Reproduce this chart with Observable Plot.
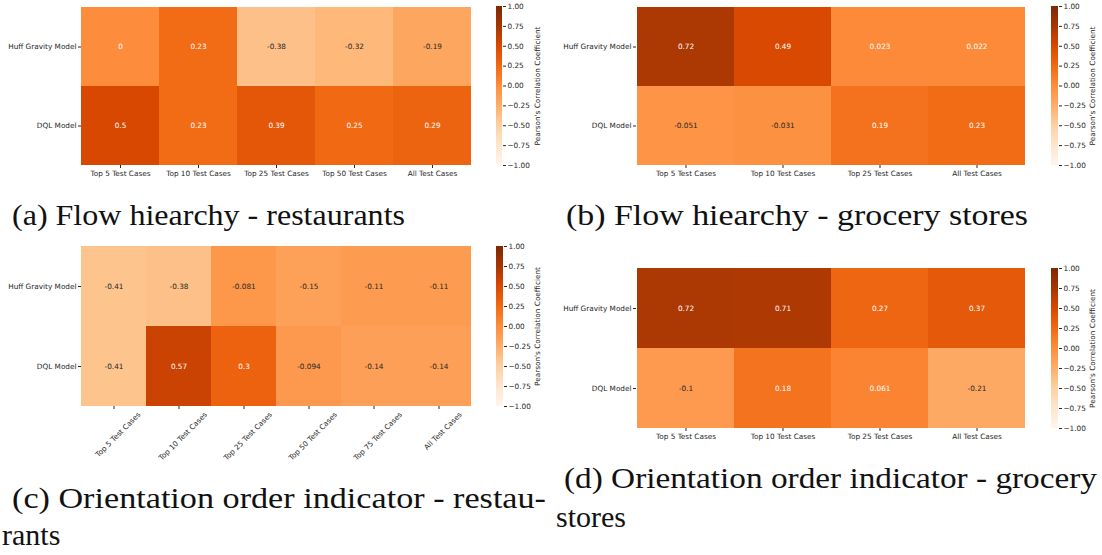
<!DOCTYPE html>
<html>
<head>
<meta charset="utf-8">
<script src="https://cdn.jsdelivr.net/npm/d3@7"></script>
<script src="https://cdn.jsdelivr.net/npm/@observablehq/plot@0.6"></script>
<style>
  html, body { margin: 0; padding: 0; background: #fff; }
  #root { position: relative; width: 1102px; height: 555px; overflow: hidden; background: #fff; }
  #root > div.panel { position: absolute; }
  #root svg { max-width: none !important; }
  #captions { position: absolute; left: 0; top: 0; }
</style>
</head>
<body>
<div id="root"></div>
<script>
// ---------- data ----------
const rowLabels = ["Huff Gravity Model", "DQL Model"];

const colsA = ["Top 5 Test Cases", "Top 10 Test Cases", "Top 25 Test Cases", "Top 50 Test Cases", "All Test Cases"];
const huffA = [0, 0.23, -0.38, -0.32, -0.19];
const dqlA  = [0.5, 0.23, 0.39, 0.25, 0.29];

const colsB = ["Top 5 Test Cases", "Top 10 Test Cases", "Top 25 Test Cases", "All Test Cases"];
const huffB = [0.72, 0.49, 0.023, 0.022];
const dqlB  = [-0.051, -0.031, 0.19, 0.23];

const colsC = ["Top 5 Test Cases", "Top 10 Test Cases", "Top 25 Test Cases", "Top 50 Test Cases", "Top 75 Test Cases", "All Test Cases"];
const huffC = [-0.41, -0.38, -0.081, -0.15, -0.11, -0.11];
const dqlC  = [-0.41, 0.57, 0.3, -0.094, -0.14, -0.14];

const colsD = ["Top 5 Test Cases", "Top 10 Test Cases", "Top 25 Test Cases", "All Test Cases"];
const huffD = [0.72, 0.71, 0.27, 0.37];
const dqlD  = [-0.1, 0.18, 0.061, -0.21];

const colorbarTicks = [-1, -0.75, -0.5, -0.25, 0, 0.25, 0.5, 0.75, 1];
const colorbarLabel = "Pearson's Correlation Coefficient";

const captionA = "(a) Flow hiearchy - restaurants";
const captionB = "(b) Flow hiearchy - grocery stores";
const captionC1 = "(c) Orientation order indicator - restau-";
const captionC2 = "rants";
const captionD1 = "(d) Orientation order indicator - grocery";
const captionD2 = "stores";

// ---------- styles ----------
const orangesPalette = ["#fff5eb", "#fee6ce", "#fdd0a2", "#fdae6b", "#fd8d3c", "#f16913", "#d94801", "#a63603", "#7f2704"];
const paletteStops = orangesPalette.map((_, i) => -1 + 2 * i / (orangesPalette.length - 1));
const colorOpts = {type: "linear", domain: paletteStops, range: orangesPalette, interpolate: "rgb", clamp: true};
const colorScale = Plot.scale({color: colorOpts});

const FONT = "'DejaVu Sans', sans-serif";
const FSN = 7.3;
const FS = FSN + "px";
const INK = "#262626";

const locale = d3.formatLocale({decimal: ".", thousands: ",", grouping: [3], currency: ["$", ""], minus: "-"});
const annotFmt = locale.format(".2~g");

const measureCtx = document.createElement("canvas").getContext("2d");
measureCtx.font = `${FSN}px 'DejaVu Sans'`;
const textWidth = s => measureCtx.measureText(s).width;

function lum(c) {
  const rgb = d3.rgb(c);
  const f = v => { v /= 255; return v <= 0.03928 ? v / 12.92 : Math.pow((v + 0.055) / 1.055, 2.4); };
  return 0.2126 * f(rgb.r) + 0.7152 * f(rgb.g) + 0.0722 * f(rgb.b);
}
function textColor(v) { return lum(colorScale.apply(v)) > 0.408 ? INK : "#ffffff"; }

function table(cols, huff, dql) {
  const out = [];
  [huff, dql].forEach((vals, r) => vals.forEach((v, i) => out.push({row: rowLabels[r], col: cols[i], value: v})));
  return out;
}

const root = document.getElementById("root");

function place(node, left, top) {
  const d = document.createElement("div");
  d.className = "panel";
  d.style.left = left + "px";
  d.style.top = top + "px";
  d.appendChild(node);
  root.appendChild(d);
}

function heatmap(cfg) {
  const data = table(cfg.cols, cfg.huff, cfg.dql);
  const marks = [
    Plot.cell(data, {x: "col", y: "row", fill: "value", inset: 0, shapeRendering: "crispEdges"}),
    Plot.text(data, {x: "col", y: "row", text: d => annotFmt(d.value), fill: d => textColor(d.value), fontSize: FSN}),
    Plot.axisY({tickSize: 3, tickPadding: 2, label: null})
  ];
  if (cfg.rotate) {
    marks.push(Plot.axisX({tickSize: 3, tickFormat: () => "", label: null}));
    // matplotlib-style rotated labels: bounding box centred under each tick
    cfg.cols.forEach(c => {
      const half = textWidth(c) * Math.SQRT1_2 / 2;
      marks.push(Plot.text([c], {x: d => d, frameAnchor: "bottom", rotate: -45, textAnchor: "end", lineAnchor: "top",
        dx: half + 2, dy: 5, fontSize: FSN, fill: INK}));
    });
  } else {
    marks.push(Plot.axisX({tickSize: 3, tickPadding: 2, label: null}));
  }
  const plot = Plot.plot({
    width: cfg.width,
    height: cfg.height,
    marginLeft: cfg.ml,
    marginRight: cfg.mr,
    marginTop: cfg.mt,
    marginBottom: cfg.mb,
    style: {fontFamily: FONT, fontSize: FS, color: INK, background: "transparent", maxWidth: "none"},
    x: {domain: cfg.cols, padding: 0},
    y: {domain: rowLabels, padding: 0},
    color: colorOpts,
    marks
  });
  place(plot, cfg.left, cfg.top);
}

function colorbar(cfg) {
  const n = 256;
  const lo = colorbarTicks[0], hi = colorbarTicks[colorbarTicks.length - 1];
  const dy = (hi - lo) / n;
  const steps = d3.range(n).map(i => lo + dy * i);
  const W = 50;
  const plot = Plot.plot({
    width: W,
    height: cfg.h + 12,
    marginLeft: 0,
    marginRight: W - cfg.bw,
    marginTop: 6,
    marginBottom: 6,
    style: {fontFamily: FONT, fontSize: FS, color: INK, background: "transparent", maxWidth: "none", overflow: "visible"},
    x: {domain: [0, 1], axis: null},
    y: {domain: [lo, hi], axis: "right", ticks: colorbarTicks, tickFormat: ".2f", tickSize: 3, tickPadding: 2, label: null},
    color: colorOpts,
    marks: [
      Plot.rect(steps, {x1: 0, x2: 1, y1: d => d, y2: d => d + dy * 1.02, fill: d => d + dy / 2, shapeRendering: "crispEdges"}),
      Plot.text([colorbarLabel], {frameAnchor: "middle", textAnchor: "middle", lineAnchor: "middle", rotate: -90, dx: 41 - cfg.bw / 2, fontSize: FSN, fill: INK})
    ]
  });
  place(plot, cfg.left, cfg.top - 6);
}

// panels
heatmap({cols: colsA, huff: huffA, dql: dqlA, left: 0, top: 0, width: 476, height: 200, ml: 81, mr: 5, mt: 6, mb: 35});
heatmap({cols: colsB, huff: huffB, dql: dqlB, left: 540, top: 0, width: 491, height: 200, ml: 96, mr: 5, mt: 6, mb: 35});
heatmap({cols: colsC, huff: huffC, dql: dqlC, left: 0, top: 240, width: 476, height: 236, ml: 81, mr: 5, mt: 6, mb: 70, rotate: -45});
heatmap({cols: colsD, huff: huffD, dql: dqlD, left: 540, top: 250, width: 491, height: 213, ml: 96, mr: 5, mt: 18, mb: 35});

colorbar({left: 496, top: 6, h: 159, bw: 6});
colorbar({left: 1051, top: 6, h: 159, bw: 7});
colorbar({left: 496, top: 246, h: 160, bw: 7});
colorbar({left: 1051, top: 268, h: 160, bw: 7});

// captions
const NS = "http://www.w3.org/2000/svg";
const cap = document.createElementNS(NS, "svg");
cap.setAttribute("id", "captions");
cap.setAttribute("width", 1102);
cap.setAttribute("height", 555);
function capText(str, x, y, len) {
  const t = document.createElementNS(NS, "text");
  t.setAttribute("x", x);
  t.setAttribute("y", y);
  if (len) { t.setAttribute("textLength", len); t.setAttribute("lengthAdjust", "spacingAndGlyphs"); }
  t.setAttribute("font-family", "'Liberation Serif', serif");
  t.setAttribute("font-size", "30");
  t.setAttribute("fill", "#111");
  t.textContent = str;
  cap.appendChild(t);
}
capText(captionA, 12, 225, 393);
capText(captionB, 566, 225, 462);
capText(captionC1, 12, 508, 534);
capText(captionC2, 2, 545, 0);
capText(captionD1, 564, 488, 533);
capText(captionD2, 556, 527, 0);
root.appendChild(cap);
</script>
</body>
</html>
